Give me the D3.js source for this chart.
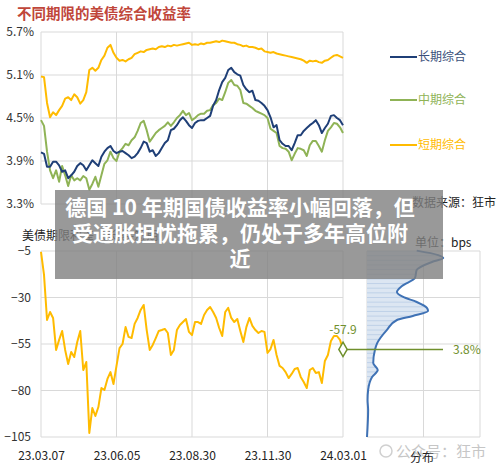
<!DOCTYPE html>
<html><head><meta charset="utf-8">
<script src="https://cdn.jsdelivr.net/npm/d3@7"></script>
<style>body{margin:0;background:#fff}svg{display:block}</style>
</head><body><svg id="c" width="500" height="469"></svg>
<script>
// ---------- data ----------
const dateLabels = ["23.03.07","23.06.05","23.08.30","23.11.30","24.03.01"];
const yieldTicks = [3.3,3.9,4.5,5.1,5.7];
const spreadTicks = [-105,-80,-55,-30,-5];
const seriesNames = ["长期综合","中期综合","短期综合"];

const longYield = [
4.02,4.00,3.82,3.82,3.89,3.89,3.84,3.75,3.77,3.66,
3.70,3.75,3.83,3.87,3.84,3.77,3.84,3.91,3.87,3.83,
3.96,4.03,4.08,4.11,4.04,4.01,4.03,4.04,4.01,3.98,
3.94,3.96,4.01,4.08,4.17,4.15,4.03,4.05,3.97,4.01,
4.08,4.15,4.19,4.33,4.35,4.40,4.47,4.51,4.46,4.40,
4.36,4.43,4.46,4.47,4.47,4.50,4.53,4.67,4.75,4.89,
5.00,5.06,5.17,5.20,5.14,5.11,5.09,4.96,4.90,4.86,
4.88,4.75,4.74,4.71,4.67,4.61,4.51,4.37,4.40,4.19,
4.14,4.11,4.11,4.05,4.15,4.26,4.26,4.32,4.36,4.40,
4.43,4.47,4.40,4.29,4.36,4.42,4.53,4.54,4.50,4.47,
4.40];
const midYield = [
4.47,4.39,4.03,3.77,3.66,3.77,3.61,3.83,3.70,3.55,
3.70,3.63,3.66,3.63,3.69,3.66,3.50,3.58,3.68,3.54,
3.70,3.86,3.91,4.03,3.94,3.90,4.03,4.08,4.14,4.12,
4.19,4.23,4.32,4.43,4.46,4.33,4.17,4.23,4.29,4.33,
4.36,4.39,4.44,4.39,4.44,4.50,4.54,4.60,4.54,4.57,
4.47,4.50,4.54,4.56,4.56,4.60,4.61,4.68,4.71,4.77,
4.75,4.86,4.99,5.03,4.96,4.95,4.89,4.71,4.70,4.67,
4.64,4.60,4.58,4.56,4.54,4.50,4.35,4.32,4.29,4.11,
4.08,4.07,4.03,3.91,4.00,4.08,4.07,4.05,3.97,4.12,
4.18,4.18,4.11,4.03,4.19,4.32,4.37,4.43,4.42,4.37,
4.29];
const shortYield = [
5.08,5.07,4.71,4.51,4.58,4.54,4.61,4.67,4.77,4.79,
4.75,4.83,4.79,4.70,4.75,4.86,5.17,5.20,5.16,5.20,
5.31,5.37,5.48,5.52,5.41,5.34,5.30,5.31,5.29,5.32,
5.34,5.39,5.41,5.43,5.42,5.45,5.46,5.47,5.46,5.49,
5.50,5.49,5.51,5.50,5.52,5.51,5.52,5.53,5.54,5.55,
5.52,5.53,5.52,5.54,5.53,5.55,5.55,5.56,5.57,5.56,
5.58,5.57,5.56,5.55,5.55,5.53,5.52,5.50,5.51,5.49,
5.49,5.48,5.46,5.47,5.43,5.42,5.41,5.42,5.40,5.39,
5.38,5.37,5.36,5.35,5.34,5.33,5.32,5.30,5.27,5.30,
5.29,5.30,5.28,5.27,5.30,5.31,5.34,5.37,5.38,5.36,
5.34];
const spread = [
-5.5,-17.9,-42.1,-37.8,-41.0,-58.2,-52.8,-48.0,-58.2,-65.8,
-59.3,-62.0,-53.9,-48.0,-69.0,-64.7,-102.8,-89.4,-93.7,-88.9,
-78.7,-79.7,-73.8,-70.1,-76.5,-66.8,-57.2,-55.0,-45.9,-51.2,
-51.8,-44.2,-41.0,-36.7,-34.0,-47.5,-58.2,-55.5,-51.8,-48.0,
-47.5,-46.9,-49.1,-60.9,-58.2,-47.5,-44.8,-43.2,-41.6,-48.5,
-50.2,-43.2,-43.2,-44.2,-39.4,-36.7,-35.1,-37.8,-41.0,-46.4,
-50.7,-37.8,-35.6,-41.0,-43.2,-41.6,-48.0,-53.9,-45.9,-41.0,
-45.3,-47.5,-49.1,-48.0,-48.5,-59.8,-57.7,-52.8,-60.9,-66.8,
-67.9,-70.1,-73.3,-71.1,-68.4,-67.9,-72.7,-75.4,-78.7,-69.0,
-67.9,-70.6,-70.1,-76.0,-64.1,-60.9,-53.4,-50.7,-50.7,-52.8,
-57.9];
const distBps = [-4.8,-7.2,-8.8,-10.9,-15.2,-19.5,-23.8,-27.0,-29.7,-32.4,-35.6,-37.3,-39.9,-42.1,-47.5,-54.5,-58.2,-65.2,-69.0,-72.7,-79.7,-85.1,-90.5,-105];
const distDensity = [0.88,1.26,1.35,1.15,0.88,0.85,0.62,0.53,0.64,0.88,1.06,1.08,0.81,0.53,0.35,0.18,0.14,0.11,0.19,0.09,0.02,0.01,0.02,0.0];
const latestSpread = -57.9;
const latestPercentile = "3.8%";
const overlayLines = ["德国 10 年期国债收益率小幅回落，但","受通胀担忧拖累，仍处于多年高位附","近"];

// ---------- drawing ----------
const FONT = "'Noto Sans CJK SC','Noto Sans',sans-serif";
const svg = d3.select("#c").style("font-family", FONT);
const GRID = "#d9d9d9";
const C_LONG = "#1f3f77", C_MID = "#8fb356", C_SHORT = "#ffbb00", C_MARK = "#6f8f2c";

const N = longYield.length - 1;
const tickIdx = dateLabels.map((d,i)=> i*N/(dateLabels.length-1));
const x = d3.scaleLinear().domain([0,N]).range([41,343]);
const yTop = d3.scaleLinear().domain([3.3,5.7]).range([204,32]);
const yBot = d3.scaleLinear().domain([-105,-5]).range([437,251]);
const xDist = d3.scaleLinear().domain([0,2]).range([367,480]);

// title
svg.append("text").attr("x",17).attr("y",19).attr("font-size",14.5).attr("font-weight","bold")
  .attr("fill","#c0463a").text("不同期限的美债综合收益率");

// top grid
const gTop = svg.append("g");
gTop.selectAll(".h").data(yieldTicks).join("line")
  .attr("x1",41).attr("x2",343).attr("y1",d=>yTop(d)).attr("y2",d=>yTop(d)).attr("stroke",GRID);
gTop.selectAll(".v").data(tickIdx).join("line").attr("class","v")
  .attr("x1",d=>x(d)).attr("x2",d=>x(d)).attr("y1",32).attr("y2",204).attr("stroke",GRID);

const axL = svg.append("g").attr("transform","translate(34,0)")
  .call(d3.axisLeft(yTop).tickValues(yieldTicks).tickSize(0).tickPadding(0).tickFormat(d=>d.toFixed(1)+"%"));
axL.select(".domain").remove();
axL.selectAll("text").attr("font-size",12).attr("fill","#333").attr("font-family",FONT);

const lineTop = d3.line().x((d,i)=>x(i)).y(d=>yTop(d)).curve(d3.curveLinear);
[[shortYield,C_SHORT],[midYield,C_MID],[longYield,C_LONG]].forEach(([arr,c])=>{
  svg.append("path").datum(arr).attr("d",lineTop).attr("fill","none")
    .attr("stroke",c).attr("stroke-width",2).attr("stroke-linejoin","round");
});

// legend
const legendColors = [C_LONG,C_MID,C_SHORT];
const legendText = ["#3a4f7a",C_MID,C_SHORT];
const legY = [57,100,145];
seriesNames.forEach((n,i)=>{
  svg.append("line").attr("x1",390).attr("x2",417).attr("y1",legY[i]).attr("y2",legY[i])
    .attr("stroke",legendColors[i]).attr("stroke-width",2);
  svg.append("text").attr("x",418).attr("y",legY[i]).attr("dy","0.35em").attr("font-size",12)
    .attr("fill",legendText[i]).text(n);
});

svg.append("text").attr("x",412).attr("y",203).attr("dy","0.35em").attr("font-size",12)
  .attr("fill","#222").text("数据来源：狂市");

// bottom chart
svg.append("text").attr("x",22).attr("y",236).attr("dy","0.35em").attr("font-size",12)
  .attr("fill","#222").text("美债期限利差（长期-短期）");
svg.append("text").attr("x",415).attr("y",243).attr("dy","0.35em").attr("font-size",12)
  .attr("fill","#222").text("单位：bps");

const gBot = svg.append("g");
gBot.selectAll(".h").data(spreadTicks).join("line")
  .attr("x1",41).attr("x2",343).attr("y1",d=>yBot(d)).attr("y2",d=>yBot(d)).attr("stroke",GRID);
gBot.selectAll(".v").data(tickIdx).join("line").attr("class","v")
  .attr("x1",d=>x(d)).attr("x2",d=>x(d)).attr("y1",251).attr("y2",437).attr("stroke",GRID);

const axB = svg.append("g").attr("transform","translate(31,0)")
  .call(d3.axisLeft(yBot).tickValues(spreadTicks).tickSize(0).tickPadding(0));
axB.select(".domain").remove();
axB.selectAll("text").attr("font-size",12).attr("fill","#333").attr("font-family",FONT);

const axX = svg.append("g").attr("transform","translate(0,451)")
  .call(d3.axisBottom(x).tickValues(tickIdx).tickSize(0).tickPadding(0).tickFormat((d,i)=>dateLabels[i]));
axX.select(".domain").remove();
axX.selectAll("text").attr("font-size",12).attr("fill","#222").attr("font-family",FONT);

// distribution panel
const gD = svg.append("g");
gD.selectAll(".h").data(spreadTicks).join("line")
  .attr("x1",367).attr("x2",480).attr("y1",d=>yBot(d)).attr("y2",d=>yBot(d)).attr("stroke",GRID);
gD.selectAll(".v").data([0,1,2]).join("line").attr("class","v")
  .attr("x1",d=>xDist(d)).attr("x2",d=>xDist(d)).attr("y1",251).attr("y2",437).attr("stroke",GRID);

const distPts = distBps.map((b,i)=>[distDensity[i], b]);
const area = d3.area().y(d=>yBot(d[1])).x0(xDist(0)).x1(d=>xDist(d[0])).curve(d3.curveMonotoneY);
const defs = svg.append("defs");
defs.append("clipPath").attr("id","distclip").append("path").datum(distPts).attr("d",area);
gD.append("path").datum(distPts).attr("d",area).attr("fill","#dce6f2");
const binEdges = d3.range(-5,-105,-2.5);
gD.append("g").attr("clip-path","url(#distclip)").selectAll("line").data(binEdges).join("line")
  .attr("x1",367).attr("x2",480).attr("y1",d=>yBot(d)).attr("y2",d=>yBot(d))
  .attr("stroke","#b8cce4").attr("stroke-width",0.8);
const distLine = d3.line().y(d=>yBot(d[1])).x(d=>xDist(d[0])).curve(d3.curveMonotoneY);
gD.append("path").datum(distPts).attr("d",distLine).attr("fill","none")
  .attr("stroke","#3f72b5").attr("stroke-width",2);

svg.append("text").attr("x",422).attr("y",458).attr("dy","0.35em").attr("text-anchor","middle")
  .attr("font-size",12).attr("fill","#222").text("分布");

// spread line
const lineBot = d3.line().x((d,i)=>x(i)).y(d=>yBot(d));
svg.append("path").datum(spread).attr("d",lineBot).attr("fill","none")
  .attr("stroke",C_SHORT).attr("stroke-width",2).attr("stroke-linejoin","round");

// latest marker
const lx = x(N), ly = yBot(latestSpread);
svg.append("line").attr("x1",lx).attr("x2",443).attr("y1",ly).attr("y2",ly)
  .attr("stroke",C_MARK).attr("stroke-width",1.5);
svg.append("path").attr("d",d3.symbol(d3.symbolDiamond,60)())
  .attr("transform",`translate(${lx},${ly})`).attr("fill","#fff").attr("stroke",C_MARK).attr("stroke-width",1.5);
svg.append("text").attr("x",lx).attr("y",ly-20).attr("dy","0.35em").attr("text-anchor","middle")
  .attr("font-size",12).attr("fill",C_MARK).text(latestSpread.toFixed(1));
svg.append("text").attr("x",453).attr("y",ly).attr("dy","0.35em")
  .attr("font-size",12).attr("fill",C_MARK).text(latestPercentile);

// overlay
svg.append("rect").attr("x",55).attr("y",190).attr("width",388).attr("height",89)
  .attr("fill","rgb(128,128,128)").attr("fill-opacity",0.8);
overlayLines.forEach((t,i)=>{
  svg.append("text").attr("x",240).attr("y",208+i*25.5).attr("dy","0.35em").attr("text-anchor","middle")
    .attr("font-size",21).attr("font-weight","bold").attr("fill","#fff").text(t);
});

// watermark
const wm = svg.append("g").attr("opacity",0.55);
wm.append("circle").attr("cx",386).attr("cy",451).attr("r",6).attr("fill","none").attr("stroke","#aaa").attr("stroke-width",1.5);
wm.append("text").attr("x",396).attr("y",452).attr("dy","0.35em").attr("font-size",15)
  .attr("fill","#999").text("公众号：狂市");
</script></body></html>
